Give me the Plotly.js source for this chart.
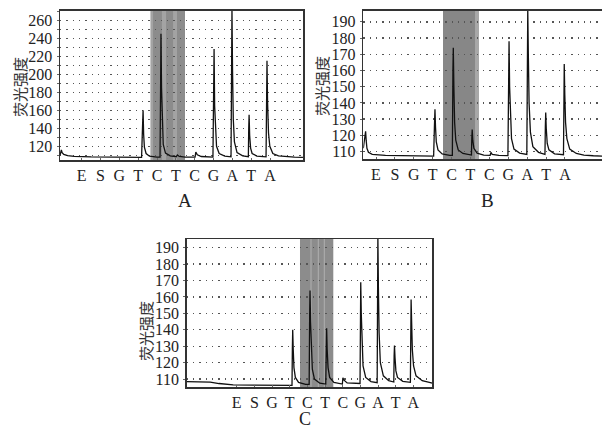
<!DOCTYPE html>
<html>
<head>
<meta charset="utf-8">
<script src="https://cdn.plot.ly/plotly-3.0.1.min.js"></script>
<style>html,body{margin:0;padding:0;background:#fff;}#chart{width:602px;height:428px;}</style>
</head>
<body>
<div id="chart"></div>
<script>
// Dispensation order (x tick labels)
const dispensations = ['E','S','G','T','C','T','C','G','A','T','A'];
const panelLetters = ['A','B','C'];
const yTitle = '荧光强度';

// Panel A signal (x in dispensation units, y fluorescence)
const aX = [-1.15,-1.08,-1.04,-0.95,-0.75,-0.4,0.5,1.5,2.5,3.18,3.22,3.26,3.29,3.33,3.42,3.6,4.0,4.16,4.19,4.21,4.24,4.28,4.33,4.45,4.7,5.02,5.08,5.18,5.5,6.02,6.06,6.14,6.35,6.97,7.0,7.03,7.06,7.1,7.16,7.3,7.6,7.93,7.96,7.98,8.01,8.05,8.11,8.25,8.55,8.85,8.87,8.89,8.92,8.97,9.05,9.3,9.79,9.82,9.84,9.87,9.92,9.99,10.15,10.45,10.9,11.3,11.75];
const aY = [110,116,113,111,109.6,108.8,108.2,107.9,107.7,107.7,135,160,133,119,112,109,108,108,185,245,185,140,122,112.5,109.5,108.4,110.5,108.8,108,107.9,113.5,110.5,108.7,108,170,228,165,135,120,112,109.2,108.3,210,272,205,150,125,113,109.5,108.5,140,155,132,118,112,109.2,108.3,180,215,170,135,120,112,109.3,108.4,108,107.8];

// Panel B signal
const bX = [-0.67,-0.6,-0.55,-0.52,-0.48,-0.4,-0.2,0.5,1.5,2.5,3.05,3.09,3.12,3.15,3.19,3.28,3.5,3.9,4.04,4.07,4.09,4.12,4.16,4.22,4.35,4.6,5.0,5.05,5.07,5.09,5.12,5.18,5.35,5.7,6.04,6.08,6.15,6.5,6.98,7.01,7.04,7.07,7.11,7.17,7.3,7.6,7.98,8.0,8.03,8.06,8.1,8.17,8.3,8.6,8.94,8.96,8.98,9.01,9.06,9.15,9.45,9.92,9.94,9.96,9.99,10.03,10.1,10.25,10.6,11.0,11.5,11.96];
const bY = [112,118,122.5,117,112,109.5,108.2,107.6,107.3,107.2,107.2,125,136,125,116,111,108.5,107.6,107.6,160,174,150,128,117,111,108.8,107.8,107.8,118,123.5,117,112,109,107.8,107.6,109.4,108.3,107.6,107.5,160,178,150,130,118,111.5,109,108.2,180,198,170,140,122,113,109.5,108.2,125,134,124,115,111,108.6,108,150,164,145,128,118,111.5,108.8,107.8,107.4,107.2];

// Panel C signal
const cX = [-2.83,-2.0,-1.5,-1.0,-0.2,1.0,2.0,3.13,3.15,3.17,3.2,3.24,3.32,3.5,3.9,4.1,4.13,4.15,4.18,4.22,4.28,4.4,4.7,5.04,5.07,5.09,5.12,5.17,5.26,5.5,5.98,6.01,6.06,6.25,6.98,7.0,7.02,7.05,7.09,7.15,7.3,7.6,7.95,7.97,7.99,8.02,8.06,8.13,8.3,8.6,8.89,8.91,8.93,8.96,9.01,9.1,9.4,9.83,9.85,9.87,9.9,9.94,10.01,10.15,10.5,10.9,11.07];
const cY = [108.5,108.4,108.2,107.3,106.5,106.3,106.2,106.2,128,140,128,117,111,108,106.8,106.8,150,164,145,126,116,110,107.5,107,130,141,128,117,111,108,107,110.8,109.5,107.7,107.3,150,169,150,130,118,111,108.5,107.8,170,197,165,138,120,112,109,108.2,124,130.5,123,115,111,108.6,108,145,158.5,145,128,118,112,109,107.8,107.5];

// Shaded dispensation windows [start, end] in x units
const bandsA = [[3.664,5.486]];
const lightA = [[3.664,3.79],[4.26,4.48],[4.85,5.06]];
const bandsB = [[3.545,5.45]];
const lightB = [[5.24,5.45]];
const bandsC = [[3.582,5.467]];
const thinC = [4.205,4.618,4.958];

const W = 602, H = 428;
const serif = 'Liberation Serif, Times New Roman, serif';
const cjk = 'Noto Sans CJK SC, sans-serif';

function px(x){ return x / W; }
function py(y){ return 1 - y / H; }

const lineStyle = {color:'#111', width:1.3};
const traces = [
  {x:aX, y:aY, xaxis:'x', yaxis:'y', mode:'lines', line:lineStyle, hoverinfo:'skip', showlegend:false},
  {x:bX, y:bY, xaxis:'x2', yaxis:'y2', mode:'lines', line:lineStyle, hoverinfo:'skip', showlegend:false},
  {x:cX, y:cY, xaxis:'x3', yaxis:'y3', mode:'lines', line:lineStyle, hoverinfo:'skip', showlegend:false}
];

const tickvals = dispensations.map((_, i) => i);

function xAxis(domain, range, anchor){
  return {
    domain: domain, range: range, anchor: anchor,
    tickmode:'array', tickvals: tickvals, ticktext: dispensations,
    showgrid:false, zeroline:false, showline:true, mirror:true,
    linecolor:'#333', linewidth:1.5,
    ticks:'inside', ticklen:2, tickcolor:'#666', tickwidth:1,
    tickfont:{family:serif, size:16, color:'#222'},
    ticklabelstandoff:0,
    fixedrange:true
  };
}
function yAxis(domain, range, anchor, dtick, tick0, minor){
  const ax = {
    domain: domain, range: range, anchor: anchor,
    tick0: tick0, dtick: dtick,
    showgrid:true, gridcolor:'#555', gridwidth:1.3, griddash:'1.3px,5px',
    zeroline:false, showline:true, mirror:true,
    linecolor:'#333', linewidth:1.5,
    ticks:'outside', ticklen:2, tickcolor:'#666', tickwidth:1,
    tickfont:{family:serif, size:16, color:'#222'},
    ticklabelstandoff:1,
    fixedrange:true
  };
  if (minor) {
    ax.minor = {dtick:10, tick0:tick0, showgrid:true, gridcolor:'#555', gridwidth:1.3, griddash:'1.3px,5px', ticks:'outside', ticklen:2, tickcolor:'#666'};
  }
  return ax;
}

const shapes = [];
function addBands(list, xref, color){
  list.forEach(b => shapes.push({type:'rect', xref:xref, yref:(xref==='x'?'y':'y'+xref.slice(1))+' domain', x0:b[0], x1:b[1], y0:0, y1:1, fillcolor:color, line:{width:0}, layer:'below'}));
}
addBands(bandsA, 'x', '#8c8c8c');
addBands(lightA, 'x', '#a3a3a3');
addBands(bandsB, 'x2', '#878787');
addBands(lightB, 'x2', '#a8a8a8');
addBands(bandsC, 'x3', '#8c8c8c');
thinC.forEach(v => shapes.push({type:'line', xref:'x3', yref:'y3 domain', x0:v, x1:v, y0:0, y1:1, line:{color:'#b0b0b0', width:1}, layer:'below'}));

function ann(text, x, y, font, angle){
  return {text:text, x:px(x), y:py(y), xref:'paper', yref:'paper', xanchor:'center', yanchor:'middle', textangle:angle||0, showarrow:false, font:font};
}
const titleFont = {family:cjk, size:15, color:'#333'};
const letterFont = {family:serif, size:19, color:'#222'};
const annotations = [
  ann(yTitle, 19, 87, titleFont, -90),
  ann(yTitle, 322, 86, titleFont, -90),
  ann(yTitle, 145, 331, titleFont, -90),
  ann(panelLetters[0], 185, 200, letterFont),
  ann(panelLetters[1], 487, 200, letterFont),
  ann(panelLetters[2], 305, 419, {family:serif, size:18, color:'#222'})
];

const layout = {
  width:W, height:H,
  margin:{l:0, r:0, t:0, b:0},
  paper_bgcolor:'#fff', plot_bgcolor:'#fff',
  showlegend:false,
  xaxis: xAxis([px(60), px(303)], [-1.152, 11.752], 'y'),
  yaxis: yAxis([py(160), py(10.7)], [104.8, 270.5], 'x', 20, 120, true),
  xaxis2: xAxis([px(363.3), 1], [-0.672, 11.958], 'y2'),
  yaxis2: yAxis([py(159.3), py(10.7)], [105.2, 196.9], 'x2', 10, 110, false),
  xaxis3: xAxis([px(186.7), px(432.3)], [-2.83, 11.07], 'y3'),
  yaxis3: yAxis([py(387.3), py(239)], [105, 195.3], 'x3', 10, 110, false),
  shapes: shapes,
  annotations: annotations
};

Plotly.newPlot('chart', traces, layout, {displayModeBar:false, staticPlot:true});
</script>
</body>
</html>
